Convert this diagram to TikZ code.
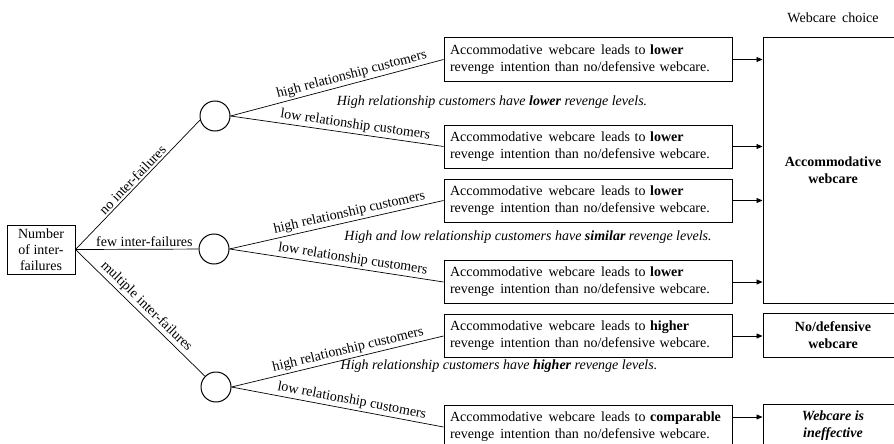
\documentclass[tikz,border=0pt]{standalone}
\usepackage{fontspec}
\setmainfont{Liberation Serif}
\usetikzlibrary{arrows.meta}

\newcommand{\wsp}{\hspace{6pt}}
\newcommand{\leadsline}[1]{\mbox{Accommodative\wsp webcare\wsp leads to \textbf{#1}}\\
	\mbox{revenge\wsp intention than no/defensive webcare.}}

\begin{document}
\begin{tikzpicture}[x=1pt, y=-1pt,
		font=\fontsize{14}{17}\selectfont,
		line width=0.7pt,
		stmt/.style={draw, line width=1pt, minimum width=288pt, minimum height=43pt,
			text width=276pt, inner xsep=6pt, align=left},
		choice/.style={draw, line width=1pt, minimum width=140pt, align=center,
			font=\fontsize{14}{17}\selectfont\bfseries},
		chance/.style={draw, circle, line width=1pt, minimum size=30pt, inner sep=0pt},
		arr/.style={-{Triangle[length=6pt, width=5pt]}},
		lbl/.style={sloped, above, inner sep=2pt}]
		\useasboundingbox (0, 0) rectangle (894, 444);

		\node [draw, line width=1pt, minimum width=68pt, minimum height=49pt,
		inner sep=1pt, align=center, font=\fontsize{14}{16}\selectfont]
		(nif) at (41, 249.5) {Number\\of inter-\\failures};

		\node [chance] (c1) at (215, 116) {};
		\node [chance] (c2) at (214, 249) {};
		\node [chance] (c3) at (216, 387) {};

		\draw (nif.east) -- node [lbl, pos=0.5] {no inter-failures} (c1.195);
		\draw (nif.east) -- node [above, pos=0.56, inner sep=2pt] {few inter-failures} (c2);
		\draw (nif.east) -- node [lbl, pos=0.5] {multiple inter-failures} (c3);

		% outcomes per branch
		\node [stmt] (s1) at (588, 59.5) {\leadsline{lower}};
		\node [stmt] (s2) at (588, 146.5) {\leadsline{lower}};
		\node [stmt] (s3) at (588, 200.5) {\leadsline{lower}};
		\node [stmt] (s4) at (588, 282) {\leadsline{lower}};
		\node [stmt] (s5) at (588, 336) {\leadsline{higher}};
		\node [stmt] (s6) at (588, 427) {\leadsline{comparable}};

		\draw (c1.east) -- node [lbl, pos=0.58] {high relationship customers} (s1.west);
		\draw (c1.east) -- node [lbl, pos=0.58] {low relationship customers} (s2.west);
		\draw (c2.east) -- node [lbl, pos=0.57] {high relationship customers} (s3.west);
		\draw (c2.east) -- node [lbl, pos=0.57] {low relationship customers} (s4.west);
		\draw (c3.east) -- node [lbl, pos=0.56] {high relationship customers} (s5.west);
		\draw (c3.east) -- node [lbl, pos=0.56] {low relationship customers} (s6.west);

		\node (m1) at (492, 102) {\textit{High relationship customers have \textbf{lower} revenge levels.}};
		\node (m2) at (528, 237) {\textit{High and low relationship customers have \textbf{similar} revenge levels.}};
		\node (m3) at (499, 366) {\textit{High relationship customers have \textbf{higher} revenge levels.}};

		% webcare choice
		\node (wc) at (833, 18) {Webcare\wsp choice};
		\node [choice, minimum height=265pt] (big) at (833, 170.5) {Accommodative\\webcare};
		\node [choice, minimum height=44pt] (nodef) at (833, 335) {No/defensive\\webcare};
		\node [choice, minimum height=43pt, font=\fontsize{14}{17}\selectfont\bfseries\itshape]
		(ineff) at (833, 426) {Webcare is\\ineffective};

		\draw [arr] (s1.east) -- (s1.east -| big.west);
		\draw [arr] (s2.east) -- (s2.east -| big.west);
		\draw [arr] (s3.east) -- (s3.east -| big.west);
		\draw [arr] (s4.east) -- (s4.east -| big.west);
		\draw [arr] (s5.east) -- (s5.east -| nodef.west);
		\draw [arr] ([yshift=10pt]s6.east) -- ([yshift=10pt]s6.east -| ineff.west);
	\end{tikzpicture}
\end{document}
